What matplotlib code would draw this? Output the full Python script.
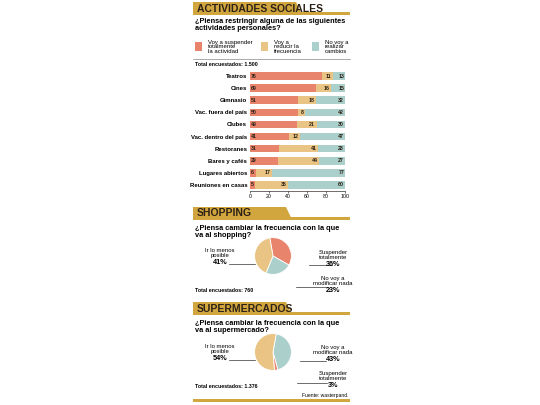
import matplotlib
matplotlib.use("Agg")
import matplotlib.pyplot as plt
from matplotlib.patches import Rectangle, Polygon
import numpy as np

plt.rcParams["font.family"] = ["Liberation Sans Narrow", "Liberation Sans", "DejaVu Sans"]

RED = "#e8846c"
YEL = "#e9c484"
TEAL = "#abd0cb"
GOLD = "#d2a63e"
DARK = "#2b2116"

activities = ["Teatros", "Cines", "Gimnasio", "Vac. fuera del país", "Clubes",
              "Vac. dentro del país", "Restoranes", "Bares y cafés",
              "Lugares abiertos", "Reuniones en casas"]
suspend = [76, 69, 51, 50, 49, 41, 31, 29, 6, 5]
reduce_ = [11, 16, 18, 8, 21, 12, 41, 44, 17, 35]
no_change = [13, 15, 32, 42, 30, 47, 28, 27, 77, 60]

shop_labels = ["Suspender\ntotalmente", "No voy a\nmodificar nada", "Ir lo menos\nposible"]
shop_vals = [36, 23, 41]
super_labels = ["No voy a\nmodificar nada", "Suspender\ntotalmente", "Ir lo menos\nposible"]
super_vals = [43, 3, 54]

W, H = 540, 405
fig = plt.figure(figsize=(5.4, 4.05), dpi=100)
bg = fig.add_axes([0, 0, 1, 1])
bg.set_xlim(0, W)
bg.set_ylim(H, 0)
bg.axis("off")


def px(x, y, w, h):
    return [x / W, 1 - (y + h) / H, w / W, h / H]


def header(y, text, w):
    bg.add_patch(Rectangle((193, y + 10), 157, 2.5, color=GOLD, lw=0))
    bg.add_patch(Polygon([(193, y), (193 + w, y), (193 + w + 6, y + 12.5), (193, y + 12.5)],
                         color=GOLD, lw=0))
    bg.text(197, y + 6.5, text, fontsize=7.5, weight="bold", color=DARK, va="center")


# ---- Actividades sociales
header(2, "ACTIVIDADES SOCIALES", 103)
bg.text(195, 25, "¿Piensa restringir alguna de las siguientes\nactividades personales?",
        fontsize=5.3, weight="bold", va="center", linespacing=1.0)
legend = [(195, RED, "Voy a suspender\ntotalmente\nla actividad"),
          (261, YEL, "Voy a\nreducir la\nfrecuencia"),
          (312, TEAL, "No voy a\nrealizar\ncambios")]
for x, c, t in legend:
    bg.add_patch(Rectangle((x, 42), 7, 9, color=c, lw=0))
    bg.text(x + 13, 47, t, fontsize=4.3, va="center", linespacing=0.95)
bg.plot([193, 350], [59, 59], color="#888888", lw=0.5)
bg.text(195, 64, "Total encuestados: 1.500", fontsize=3.8, weight="bold", va="center")

ax = fig.add_axes(px(250, 70, 95, 121))
y = np.arange(len(activities))
s = np.array(suspend)
r = np.array(reduce_)
n = np.array(no_change)
ax.barh(y, s, color=RED, height=0.62)
ax.barh(y, r, left=s, color=YEL, height=0.62)
ax.barh(y, n, left=s + r, color=TEAL, height=0.62)
for i in range(len(activities)):
    ax.text(1, i, str(s[i]), fontsize=3.8, va="center", ha="left", weight="bold", color=DARK)
    ax.text(s[i] + r[i] - 1.5, i, str(r[i]), fontsize=3.8, va="center", ha="right",
            weight="bold", color=DARK)
    ax.text(99, i, str(n[i]), fontsize=3.8, va="center", ha="right", weight="bold", color=DARK)
ax.set_yticks(y, activities, fontsize=4.3, weight="bold")
ax.set_ylim(len(activities) - 0.5, -0.5)
ax.set_xlim(0, 100)
ax.set_xticks([0, 20, 40, 60, 80, 100])
ax.tick_params(axis="x", labelsize=3.8, length=1.5, width=0.4, pad=1)
ax.tick_params(axis="y", length=0, pad=2)
for sp in ["top", "right", "left"]:
    ax.spines[sp].set_visible(False)
ax.spines["bottom"].set_linewidth(0.4)


def pie(cy, vals, labels, colors, start, label_pos):
    pa = fig.add_axes(px(250, cy - 23, 46, 46))
    pa.pie(vals, colors=colors, startangle=start, counterclock=False,
           wedgeprops=dict(edgecolor="white", linewidth=0.6))
    pa.set_aspect("equal")
    for (lx, ly, ha, lx2, ly2, lx3), lab, v in zip(label_pos, labels, vals):
        bg.text(lx, ly, lab, fontsize=4.3, ha="center", va="bottom", linespacing=0.95)
        bg.text(lx, ly + 1, f"{v}%", fontsize=5.2, weight="bold", ha="center", va="top")
        bg.plot([lx2, lx3], [ly2, ly2], color="#333333", lw=0.5)


# ---- Shopping
header(207, "SHOPPING", 93)
bg.text(195, 232, "¿Piensa cambiar la frecuencia con la que\nva al shopping?",
        fontsize=5.3, weight="bold", va="center", linespacing=1.0)
pie(256, shop_vals, shop_labels, [RED, TEAL, YEL], 100,
    [(333, 260, "c", 309, 265, 332), (333, 286, "c", 296, 287, 327),
     (220, 258, "c", 229, 264, 255)])
bg.text(195, 290, "Total encuestados: 760", fontsize=3.8, weight="bold", va="center")

# ---- Supermercados
header(302, "SUPERMERCADOS", 93)
bg.text(195, 327, "¿Piensa cambiar la frecuencia con la que\nva al supermercado?",
        fontsize=5.3, weight="bold", va="center", linespacing=1.0)
pie(352, super_vals, super_labels, [TEAL, RED, YEL], 80,
    [(333, 355, "c", 300, 361, 326), (333, 381, "c", 297, 383, 327),
     (220, 354, "c", 229, 360, 255)])
bg.text(195, 386, "Total encuestados: 1.376", fontsize=3.8, weight="bold", va="center")
bg.text(348, 395, "Fuente: wasterpand.", fontsize=3.6, ha="right", va="center")
bg.add_patch(Rectangle((193, 399), 157, 3, color=GOLD, lw=0))

fig.savefig("out.png", dpi=100)
